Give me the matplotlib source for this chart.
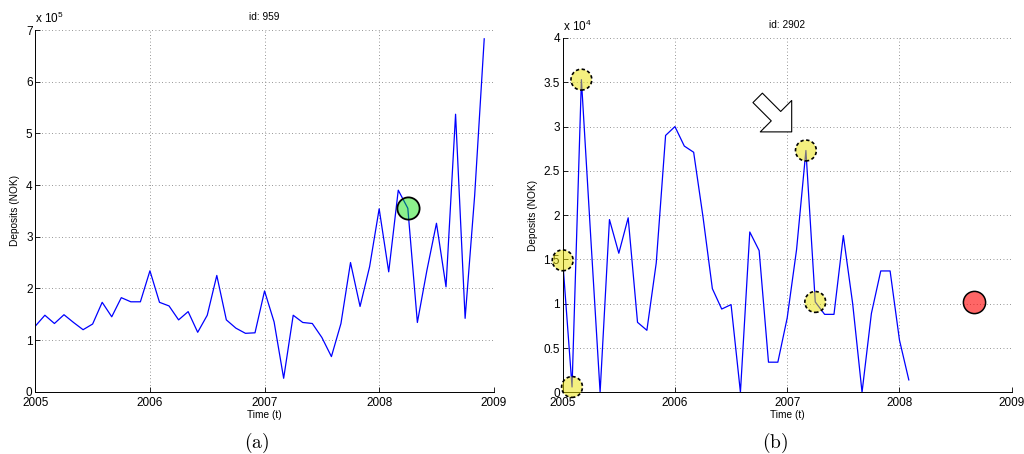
import numpy as np
import matplotlib
matplotlib.use("Agg")
import matplotlib.pyplot as plt
from matplotlib.ticker import FuncFormatter

plt.rcParams['font.family'] = ['Liberation Sans', 'DejaVu Sans']
plt.rcParams['mathtext.fontset'] = 'custom'
plt.rcParams['mathtext.rm'] = 'Liberation Sans'
plt.rcParams['mathtext.it'] = 'Liberation Sans:italic'

# monthly deposits, account 959 (units of 1e5 NOK), starting Jan 2005
deposits_959 = [1.27, 1.48, 1.32, 1.49, 1.34, 1.20, 1.31, 1.73, 1.45, 1.82, 1.74, 1.74,
                2.34, 1.73, 1.66, 1.39, 1.55, 1.15, 1.48, 2.25, 1.39, 1.23, 1.13, 1.14,
                1.95, 1.35, 0.26, 1.48, 1.34, 1.32, 1.05, 0.68, 1.32, 2.50, 1.65, 2.42,
                3.54, 2.32, 3.90, 3.55, 1.34, 2.35, 3.26, 2.03, 5.37, 1.42, 3.80, 6.83]
# monthly deposits, account 2902 (units of 1e4 NOK), starting Jan 2005
deposits_2902 = [1.49, 0.06, 3.53, 1.75, 0.00, 1.95, 1.57, 1.97, 0.79, 0.70, 1.46, 2.90,
                 3.00, 2.78, 2.71, 1.98, 1.17, 0.94, 0.99, 0.00, 1.81, 1.60, 0.34, 0.34,
                 0.84, 1.61, 2.73, 1.02, 0.88, 0.88, 1.77, 1.00, 0.00, 0.89, 1.37, 1.37,
                 0.59, 0.14]

start_year = 2005
green_month = 39                   # flagged month on account 959
yellow_months = [0, 1, 2, 26, 27]  # outlier months on account 2902
red_month, red_value = 44, 1.02    # predicted value for account 2902
arrow_tip = (2007.04, 2.94)

years = [2005, 2006, 2007, 2008, 2009]
yticks_959 = [0, 1, 2, 3, 4, 5, 6, 7]
yticks_2902 = [0, 0.5, 1, 1.5, 2, 2.5, 3, 3.5, 4]

t959 = start_year + np.arange(len(deposits_959)) / 12.0
t2902 = start_year + np.arange(len(deposits_2902)) / 12.0

fig = plt.figure(figsize=(10.24, 4.54), dpi=100)
ax1 = fig.add_axes([0.0345, 0.1372, 0.4477, 0.7967])
ax2 = fig.add_axes([0.5495, 0.1359, 0.4385, 0.7804])


def style_axes(ax, yticks, exp, title, label_x):
    ax.set_xlim(2005, 2009)
    ax.set_ylim(yticks[0], yticks[-1])
    ax.set_xticks(years)
    ax.set_yticks(yticks)
    ax.yaxis.set_major_formatter(FuncFormatter(lambda v, p: '%g' % v))
    ax.grid(True, linestyle=(0, (1, 3)), color='0.45', linewidth=0.6)
    ax.set_axisbelow(True)
    for s in ['top', 'right']:
        ax.spines[s].set_visible(False)
    for s in ['left', 'bottom']:
        ax.spines[s].set_linewidth(0.7)
    ax.tick_params(direction='in', length=3.5, width=0.6, labelsize=8.5)
    ax.tick_params(axis='y', pad=2)
    ax.tick_params(axis='x', pad=3.5)
    ax.set_xlabel('Time (t)', fontsize=7.3)
    ax.set_ylabel('Deposits (NOK)', fontsize=7.3)
    ax.xaxis.set_label_coords(0.5, -0.05)
    ax.yaxis.set_label_coords(label_x, 0.5)
    ax.text(0.5, 1.036, title, transform=ax.transAxes, ha='center', va='center', fontsize=7.3)
    ax.text(0.0, 1.011, r'x 10$^{%d}$' % exp, transform=ax.transAxes,
            ha='left', va='bottom', fontsize=8.5)


# account 959
ax1.plot(t959, deposits_959, color='blue', lw=0.9)
ax1.plot(t959[green_month], deposits_959[green_month], 'o', ms=16,
         mfc=(0.0, 0.88, 0.0, 0.45), mec='black', mew=1.3)
style_axes(ax1, yticks_959, 5, 'id: 959', -0.034)

# account 2902
ax2.plot(t2902, deposits_2902, color='blue', lw=0.9)
ax2.scatter(t2902[yellow_months], np.array(deposits_2902)[yellow_months], s=15 ** 2,
            facecolors=[(0.92, 0.89, 0.0, 0.5)], edgecolors='black', linewidths=1.2,
            linestyles=(0, (2, 1.5)), clip_on=False, zorder=3)
ax2.plot(start_year + red_month / 12.0, red_value, 'o', ms=16,
         mfc=(1.0, 0.0, 0.0, 0.6), mec='black', mew=1.1)
ax2.annotate('', xy=arrow_tip, xycoords='data', xytext=(-24.5, 24.5), textcoords='offset points',
             arrowprops=dict(arrowstyle='simple,head_length=1.6,head_width=3.2,tail_width=0.96',
                             mutation_scale=10, fc='white', ec='black', lw=0.8,
                             shrinkA=0, shrinkB=0))
style_axes(ax2, yticks_2902, 4, 'id: 2902', -0.056)

fig.text(257 / 1024, 1 - 443 / 454, r'$\mathrm{(a)}$', ha='center', va='center',
         fontsize=14, math_fontfamily='cm')
fig.text(775 / 1024, 1 - 443 / 454, r'$\mathrm{(b)}$', ha='center', va='center',
         fontsize=14, math_fontfamily='cm')

fig.savefig('out.png', dpi=100)
